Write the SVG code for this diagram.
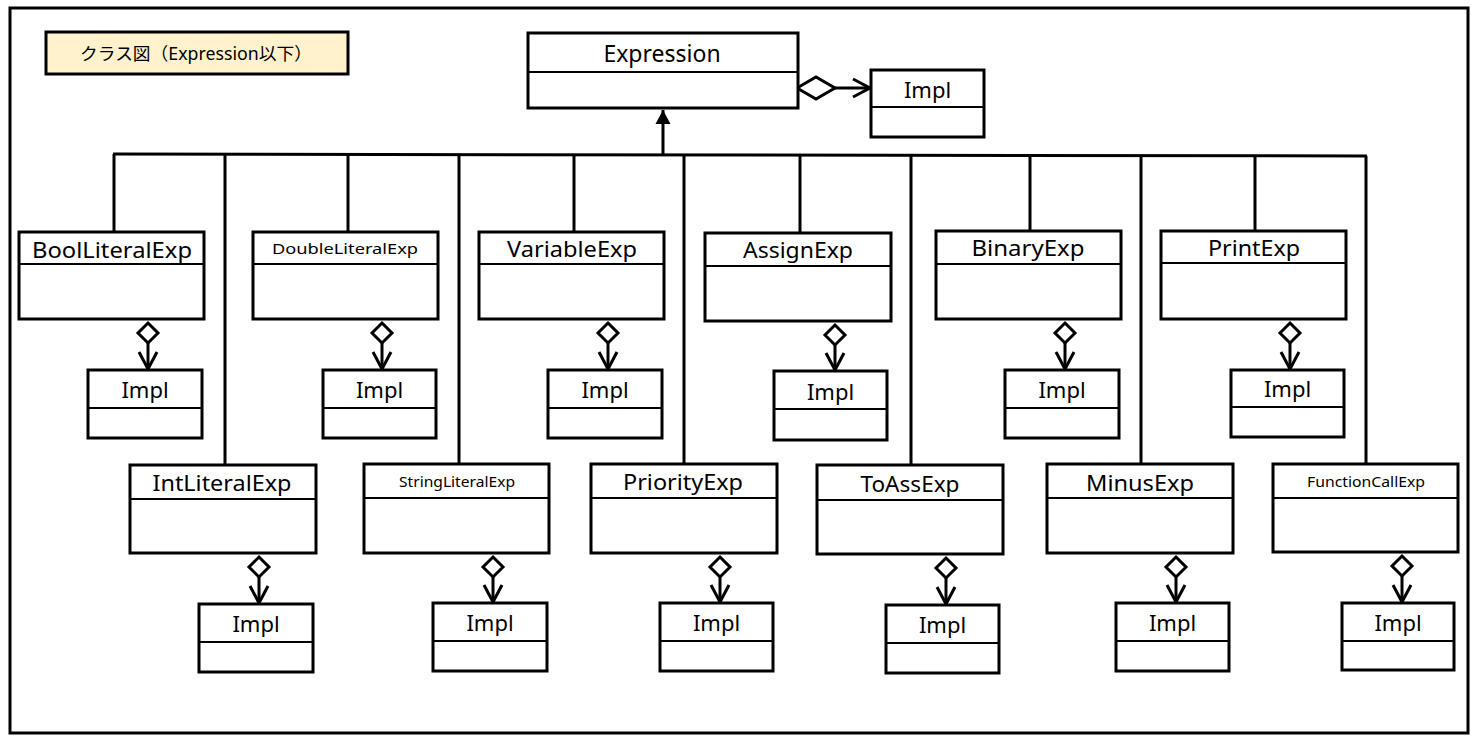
<svg xmlns="http://www.w3.org/2000/svg" width="1471" height="748" viewBox="0 0 1471 748">
<style>
.box{fill:#fff;stroke:#000;stroke-width:3}
.div{stroke:#000;stroke-width:2}
.ln{stroke:#000;stroke-width:3;fill:none}
.t{font-family:"Noto Sans","Noto Sans CJK JP",sans-serif;fill:#000;text-anchor:middle}
.n{font-size:21px}
.s{font-size:15px}
.i{font-size:22px}
</style>
<defs>
<marker id="dia" markerUnits="userSpaceOnUse" orient="auto" refX="0" refY="0" markerWidth="24" markerHeight="24" style="overflow:visible">
<path d="M0,0 L10,-10 L20,0 L10,10 Z" fill="#fff" stroke="#000" stroke-width="3"/>
</marker>
<marker id="diaW" markerUnits="userSpaceOnUse" orient="auto" refX="0" refY="0" markerWidth="40" markerHeight="26" style="overflow:visible">
<path d="M0,0 L19,-11 L38,0 L19,11 Z" fill="#fff" stroke="#000" stroke-width="3"/>
</marker>
<marker id="arr" markerUnits="userSpaceOnUse" orient="auto" refX="0" refY="0" markerWidth="20" markerHeight="20" style="overflow:visible">
<path d="M-17,-9 L0,0 L-17,9" fill="none" stroke="#000" stroke-width="3"/>
</marker>
<marker id="tri" markerUnits="userSpaceOnUse" orient="auto" refX="0" refY="0" markerWidth="16" markerHeight="16" style="overflow:visible">
<path d="M0,0 L-14,-7.5 L-14,7.5 Z" fill="#000"/>
</marker>
</defs>
<rect x="0" y="0" width="1471" height="748" fill="#fff"/>
<rect id="frame" x="10" y="8" width="1458" height="725" fill="none" stroke="#000" stroke-width="3"/>

<g id="title">
<rect x="46" y="32" width="302" height="42" fill="#FFF2CC" stroke="#000" stroke-width="3"/>
<text class="t" x="196" y="60" font-size="17.5" textLength="232" lengthAdjust="spacingAndGlyphs">クラス図（Expression以下）</text>
</g>

<g id="connectors">
<line class="ln" x1="113" y1="154" x2="1367" y2="156"/>
<line class="ln" x1="663" y1="155" x2="663" y2="110" marker-end="url(#tri)"/>
<line class="ln" x1="114" y1="154" x2="114" y2="232"/>
<line class="ln" x1="225" y1="154" x2="225" y2="465"/>
<line class="ln" x1="348" y1="154" x2="348" y2="232"/>
<line class="ln" x1="459" y1="154" x2="459" y2="464"/>
<line class="ln" x1="574" y1="155" x2="574" y2="232"/>
<line class="ln" x1="684" y1="155" x2="684" y2="464"/>
<line class="ln" x1="800" y1="155" x2="800" y2="233"/>
<line class="ln" x1="911" y1="155" x2="911" y2="465"/>
<line class="ln" x1="1030" y1="155" x2="1030" y2="231"/>
<line class="ln" x1="1141" y1="156" x2="1141" y2="464"/>
<line class="ln" x1="1255" y1="156" x2="1255" y2="231"/>
<line class="ln" x1="1366" y1="156" x2="1366" y2="464"/>
<line class="ln" x1="797" y1="88" x2="870" y2="88" marker-start="url(#diaW)" marker-end="url(#arr)"/>
<line class="ln" x1="148" y1="323" x2="148" y2="369" marker-start="url(#dia)" marker-end="url(#arr)"/>
<line class="ln" x1="382" y1="323" x2="382" y2="369" marker-start="url(#dia)" marker-end="url(#arr)"/>
<line class="ln" x1="608" y1="323" x2="608" y2="369" marker-start="url(#dia)" marker-end="url(#arr)"/>
<line class="ln" x1="835" y1="325" x2="835" y2="370" marker-start="url(#dia)" marker-end="url(#arr)"/>
<line class="ln" x1="1065" y1="323" x2="1065" y2="369" marker-start="url(#dia)" marker-end="url(#arr)"/>
<line class="ln" x1="1290" y1="323" x2="1290" y2="369" marker-start="url(#dia)" marker-end="url(#arr)"/>
<line class="ln" x1="259" y1="557" x2="259" y2="603" marker-start="url(#dia)" marker-end="url(#arr)"/>
<line class="ln" x1="493" y1="557" x2="493" y2="602" marker-start="url(#dia)" marker-end="url(#arr)"/>
<line class="ln" x1="720" y1="557" x2="720" y2="602" marker-start="url(#dia)" marker-end="url(#arr)"/>
<line class="ln" x1="946" y1="558" x2="946" y2="604" marker-start="url(#dia)" marker-end="url(#arr)"/>
<line class="ln" x1="1176" y1="557" x2="1176" y2="602" marker-start="url(#dia)" marker-end="url(#arr)"/>
<line class="ln" x1="1402" y1="556" x2="1402" y2="602" marker-start="url(#dia)" marker-end="url(#arr)"/>
</g>

<g id="Expression">
<rect class="box" x="528" y="33" width="270" height="75"/>
<line class="div" x1="528" y1="72" x2="798" y2="72"/>
<text class="t" x="662" y="62" font-size="23">Expression</text>
</g>
<g id="ImplTop">
<rect class="box" x="871" y="70" width="113" height="67"/>
<line class="div" x1="871" y1="107" x2="984" y2="107"/>
<text class="t i" x="927.5" y="98">Impl</text>
</g>

<g id="BoolLiteralExp">
<rect class="box" x="19" y="232" width="185" height="87"/>
<line class="div" x1="19" y1="264" x2="204" y2="264"/>
<text class="t n" x="112" y="258" textLength="160" lengthAdjust="spacingAndGlyphs">BoolLiteralExp</text>
</g>
<g id="ImplBool">
<rect class="box" x="88" y="370" width="114" height="68"/>
<line class="div" x1="88" y1="408" x2="202" y2="408"/>
<text class="t i" x="145" y="398">Impl</text>
</g>

<g id="DoubleLiteralExp">
<rect class="box" x="253" y="232" width="185" height="87"/>
<line class="div" x1="253" y1="264" x2="438" y2="264"/>
<text class="t s" x="345" y="254" textLength="146" lengthAdjust="spacingAndGlyphs">DoubleLiteralExp</text>
</g>
<g id="ImplDouble">
<rect class="box" x="323" y="370" width="113" height="68"/>
<line class="div" x1="323" y1="408" x2="436" y2="408"/>
<text class="t i" x="379.5" y="398">Impl</text>
</g>

<g id="VariableExp">
<rect class="box" x="479" y="232" width="185" height="87"/>
<line class="div" x1="479" y1="264" x2="664" y2="264"/>
<text class="t n" x="572" y="257" textLength="130" lengthAdjust="spacingAndGlyphs">VariableExp</text>
</g>
<g id="ImplVariable">
<rect class="box" x="548" y="370" width="114" height="68"/>
<line class="div" x1="548" y1="408" x2="662" y2="408"/>
<text class="t i" x="605" y="398">Impl</text>
</g>

<g id="AssignExp">
<rect class="box" x="705" y="233" width="186" height="88"/>
<line class="div" x1="705" y1="266" x2="891" y2="266"/>
<text class="t n" x="798" y="258" textLength="110" lengthAdjust="spacingAndGlyphs">AssignExp</text>
</g>
<g id="ImplAssign">
<rect class="box" x="774" y="371" width="113" height="69"/>
<line class="div" x1="774" y1="409" x2="887" y2="409"/>
<text class="t i" x="830.5" y="400">Impl</text>
</g>

<g id="BinaryExp">
<rect class="box" x="936" y="231" width="185" height="88"/>
<line class="div" x1="936" y1="264" x2="1121" y2="264"/>
<text class="t n" x="1028" y="256" textLength="113" lengthAdjust="spacingAndGlyphs">BinaryExp</text>
</g>
<g id="ImplBinary">
<rect class="box" x="1005" y="370" width="114" height="68"/>
<line class="div" x1="1005" y1="408" x2="1119" y2="408"/>
<text class="t i" x="1062" y="398">Impl</text>
</g>

<g id="PrintExp">
<rect class="box" x="1161" y="231" width="185" height="88"/>
<line class="div" x1="1161" y1="263" x2="1346" y2="263"/>
<text class="t n" x="1254" y="256" textLength="92" lengthAdjust="spacingAndGlyphs">PrintExp</text>
</g>
<g id="ImplPrint">
<rect class="box" x="1231" y="370" width="113" height="67"/>
<line class="div" x1="1231" y1="407" x2="1344" y2="407"/>
<text class="t i" x="1287.5" y="397">Impl</text>
</g>

<g id="IntLiteralExp">
<rect class="box" x="130" y="465" width="186" height="88"/>
<line class="div" x1="130" y1="499" x2="316" y2="499"/>
<text class="t n" x="222" y="491" textLength="139" lengthAdjust="spacingAndGlyphs">IntLiteralExp</text>
</g>
<g id="ImplInt">
<rect class="box" x="199" y="604" width="114" height="68"/>
<line class="div" x1="199" y1="642" x2="313" y2="642"/>
<text class="t i" x="256" y="632">Impl</text>
</g>

<g id="StringLiteralExp">
<rect class="box" x="364" y="464" width="185" height="89"/>
<line class="div" x1="364" y1="498" x2="549" y2="498"/>
<text class="t s" x="457" y="487" textLength="116" lengthAdjust="spacingAndGlyphs">StringLiteralExp</text>
</g>
<g id="ImplString">
<rect class="box" x="433" y="603" width="114" height="68"/>
<line class="div" x1="433" y1="641" x2="547" y2="641"/>
<text class="t i" x="490" y="631">Impl</text>
</g>

<g id="PriorityExp">
<rect class="box" x="591" y="464" width="186" height="89"/>
<line class="div" x1="591" y1="498" x2="777" y2="498"/>
<text class="t n" x="683" y="490" textLength="120" lengthAdjust="spacingAndGlyphs">PriorityExp</text>
</g>
<g id="ImplPriority">
<rect class="box" x="660" y="603" width="113" height="68"/>
<line class="div" x1="660" y1="641" x2="773" y2="641"/>
<text class="t i" x="716.5" y="631">Impl</text>
</g>

<g id="ToAssExp">
<rect class="box" x="817" y="465" width="186" height="89"/>
<line class="div" x1="817" y1="500" x2="1003" y2="500"/>
<text class="t n" x="910" y="492" textLength="99" lengthAdjust="spacingAndGlyphs">ToAssExp</text>
</g>
<g id="ImplToAss">
<rect class="box" x="886" y="605" width="113" height="68"/>
<line class="div" x1="886" y1="643" x2="999" y2="643"/>
<text class="t i" x="942.5" y="633">Impl</text>
</g>

<g id="MinusExp">
<rect class="box" x="1047" y="464" width="186" height="89"/>
<line class="div" x1="1047" y1="498" x2="1233" y2="498"/>
<text class="t n" x="1140" y="491" textLength="108" lengthAdjust="spacingAndGlyphs">MinusExp</text>
</g>
<g id="ImplMinus">
<rect class="box" x="1116" y="603" width="113" height="68"/>
<line class="div" x1="1116" y1="641" x2="1229" y2="641"/>
<text class="t i" x="1172.5" y="631">Impl</text>
</g>

<g id="FunctionCallExp">
<rect class="box" x="1273" y="464" width="185" height="88"/>
<line class="div" x1="1273" y1="498" x2="1458" y2="498"/>
<text class="t s" x="1366" y="487" textLength="118" lengthAdjust="spacingAndGlyphs">FunctionCallExp</text>
</g>
<g id="ImplFunctionCall">
<rect class="box" x="1342" y="603" width="112" height="67"/>
<line class="div" x1="1342" y1="641" x2="1454" y2="641"/>
<text class="t i" x="1398" y="631">Impl</text>
</g>
</svg>
